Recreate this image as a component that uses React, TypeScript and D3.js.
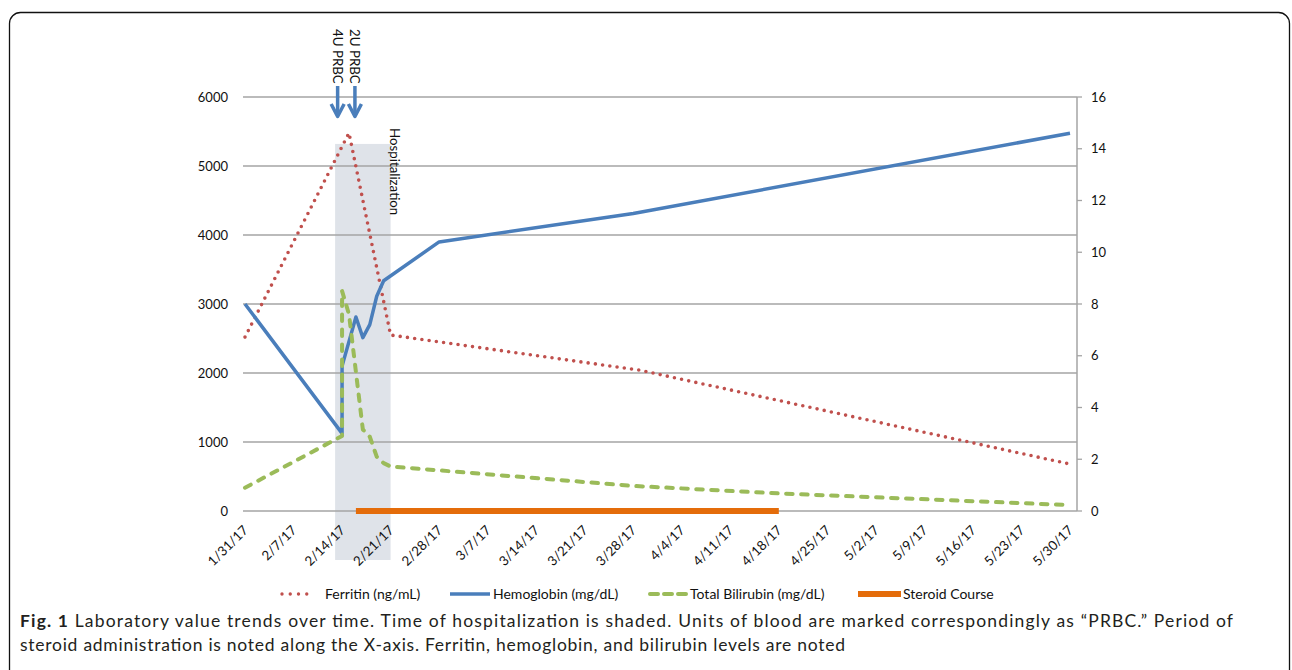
import React from "react";
import * as d3 from "d3";

// ---------- data ----------
const ferritinDates = ["2017-01-31", "2017-02-15", "2017-02-21", "2017-03-29", "2017-05-30"];
const ferritinValues = [2520, 5480, 2550, 2040, 680];

const hgbDates = [
  "2017-01-31", "2017-02-14", "2017-02-14", "2017-02-16", "2017-02-17", "2017-02-18",
  "2017-02-19", "2017-02-20", "2017-02-28", "2017-03-28", "2017-05-30",
];
const hgbValues = [8.0, 3.0, 5.6, 7.5, 6.7, 7.2, 8.3, 8.9, 10.4, 11.5, 14.6];

const biliDates = [
  "2017-01-31", "2017-02-14", "2017-02-14", "2017-02-15", "2017-02-17", "2017-02-18",
  "2017-02-19", "2017-02-20", "2017-02-21", "2017-03-28", "2017-04-18", "2017-05-30",
];
const biliValues = [0.9, 2.9, 8.5, 7.6, 3.15, 2.87, 2.1, 1.85, 1.72, 0.97, 0.68, 0.23];

const steroidStart = "2017-02-16";
const steroidEnd = "2017-04-18";

const hospStart = "2017-02-13";
const hospEnd = "2017-02-21";
const hospTopValue = 5320;
const hospBottomValue = -710;

const transfusionDates = ["2017-02-13", "2017-02-16"];
const transfusionLabels = ["4U PRBC", "2U PRBC"];

const xTickDates = [
  "2017-01-31", "2017-02-07", "2017-02-14", "2017-02-21", "2017-02-28", "2017-03-07",
  "2017-03-14", "2017-03-21", "2017-03-28", "2017-04-04", "2017-04-11", "2017-04-18",
  "2017-04-25", "2017-05-02", "2017-05-09", "2017-05-16", "2017-05-23", "2017-05-30",
];
const xTickLabels = [
  "1/31/17", "2/7/17", "2/14/17", "2/21/17", "2/28/17", "3/7/17", "3/14/17", "3/21/17",
  "3/28/17", "4/4/17", "4/11/17", "4/18/17", "4/25/17", "5/2/17", "5/9/17", "5/16/17",
  "5/23/17", "5/30/17",
];
const leftTicks = [0, 1000, 2000, 3000, 4000, 5000, 6000];
const rightTicks = [0, 2, 4, 6, 8, 10, 12, 14, 16];

const legendLabels = ["Ferritin (ng/mL)", "Hemoglobin (mg/dL)", "Total Bilirubin (mg/dL)", "Steroid Course"];

const captionBold = "Fig. 1";
const captionLine1 =
  " Laboratory value trends over time. Time of hospitalization is shaded. Units of blood are marked correspondingly as \u201CPRBC.\u201D Period of";
const captionLine2 =
  "steroid administration is noted along the X-axis. Ferritin, hemoglobin, and bilirubin levels are noted";

// ---------- style ----------
const FONT = "Lato, 'Open Sans', sans-serif";
const RED = "#c0504d";
const BLUE = "#4a7ebb";
const GREEN = "#9bbb59";
const ORANGE = "#e46c0a";
const GRID = "#a4a4a4";
const TEXT = "#111";

const W = 1292;
const H = 670;
const plotLeft = 243;
const plotRight = 1077;
const plotTop = 97;
const plotBottom = 511;

const parse = (s: string) => new Date(s.length === 10 ? s + "T00:00:00Z" : s);

export default function App() {
  const x = d3
    .scaleUtc()
    .domain([parse("2017-01-31"), parse("2017-05-30")])
    .range([245, 1070]);
  const yL = d3.scaleLinear().domain([0, 6000]).range([plotBottom, plotTop]);
  const yR = d3.scaleLinear().domain([0, 16]).range([plotBottom, plotTop]);

  const lineL = d3
    .line<[string, number]>()
    .x((d) => x(parse(d[0])))
    .y((d) => yL(d[1]));
  const lineR = d3
    .line<[string, number]>()
    .x((d) => x(parse(d[0])))
    .y((d) => yR(d[1]));

  const ferritin = lineL(ferritinDates.map((d, i) => [d, ferritinValues[i]] as [string, number])) || "";
  const hgb = lineR(hgbDates.map((d, i) => [d, hgbValues[i]] as [string, number])) || "";
  const bili = lineR(biliDates.map((d, i) => [d, biliValues[i]] as [string, number])) || "";

  const hx0 = x(parse(hospStart));
  const hx1 = x(parse(hospEnd));

  const legendY = 594;

  return (
    <svg
      width={W}
      height={H}
      viewBox={`0 0 ${W} ${H}`}
      style={{ position: "absolute", left: 0, top: 0, background: "#fff" }}
      fontFamily={FONT}
    >
      <rect x={0} y={0} width={W} height={H} fill="#fff" />
      {/* frame */}
      <rect x={9.5} y={12.5} width={1280} height={720} rx={11} ry={11} fill="none" stroke="#111" strokeWidth={1.3} />

      {/* hospitalization shade */}
      <rect x={hx0} y={yL(hospTopValue)} width={hx1 - hx0} height={yL(hospBottomValue) - yL(hospTopValue)} fill="#dfe3e9" />

      {/* gridlines */}
      {leftTicks.map((t) => (
        <line key={"g" + t} x1={plotLeft} x2={plotRight} y1={yL(t)} y2={yL(t)} stroke={GRID} strokeWidth={1.3} />
      ))}
      {/* right axis */}
      <line x1={plotRight} x2={plotRight} y1={plotTop} y2={plotBottom} stroke={GRID} strokeWidth={1.5} />
      {rightTicks.map((t) => (
        <line key={"rt" + t} x1={plotRight} x2={plotRight + 5} y1={yR(t)} y2={yR(t)} stroke={GRID} strokeWidth={1.3} />
      ))}

      {/* left labels */}
      {leftTicks.map((t) => (
        <text key={"ll" + t} x={228} y={yL(t)} dy="0.35em" textAnchor="end" fontSize={13} fill={TEXT}>
          {t}
        </text>
      ))}
      {/* right labels */}
      {rightTicks.map((t) => (
        <text key={"rl" + t} x={1091} y={yR(t)} dy="0.35em" textAnchor="start" fontSize={13} fill={TEXT}>
          {t}
        </text>
      ))}

      {/* x labels */}
      {xTickDates.map((d, i) => {
        const tx = x(parse(d)) + 4;
        return (
          <text key={"xl" + d} transform={`translate(${tx},531) rotate(-45)`} textAnchor="end" fontSize={13.3} fill={TEXT}>
            {xTickLabels[i]}
          </text>
        );
      })}

      {/* series */}
      <path d={ferritin} fill="none" stroke={RED} strokeWidth={3.6} strokeLinecap="round" strokeDasharray="0 7.3" />
      <line
        x1={x(parse(steroidStart))}
        x2={x(parse(steroidEnd))}
        y1={yL(0)}
        y2={yL(0)}
        stroke={ORANGE}
        strokeWidth={6}
      />
      <path d={hgb} fill="none" stroke={BLUE} strokeWidth={3.5} strokeLinejoin="round" />
      <path d={bili} fill="none" stroke={GREEN} strokeWidth={4} strokeLinecap="round" strokeLinejoin="round" strokeDasharray="6.5 8.5" />

      {/* hospitalization label */}
      <text transform={`translate(${hx1 + 4},128) rotate(90)`} dy="0.35em" fontSize={13.3} fill={TEXT}>
        Hospitalization
      </text>

      {/* transfusion arrows */}
      {transfusionDates.map((d, i) => {
        const ax = x(parse(d)) + (i === 0 ? 2.5 : -1);
        return (
          <g key={"tr" + d}>
            <text transform={`translate(${ax},29) rotate(90)`} dy="0.35em" fontSize={13.3} fill={TEXT}>
              {transfusionLabels[i]}
            </text>
            <line x1={ax} x2={ax} y1={86} y2={116} stroke={BLUE} strokeWidth={3.5} />
            <polyline
              points={`${ax - 6.5},104 ${ax},116.5 ${ax + 6.5},104`}
              fill="none"
              stroke={BLUE}
              strokeWidth={3.5}
              strokeLinejoin="round"
            />
          </g>
        );
      })}

      {/* legend */}
      <line x1={282} x2={315} y1={legendY} y2={legendY} stroke={RED} strokeWidth={3.4} strokeLinecap="round" strokeDasharray="0 8.25" />
      <text x={325} y={legendY} dy="0.35em" fontSize={14} fill={TEXT}>{legendLabels[0]}</text>
      <line x1={450} x2={490} y1={legendY} y2={legendY} stroke={BLUE} strokeWidth={3.5} />
      <text x={493} y={legendY} dy="0.35em" fontSize={14} fill={TEXT}>{legendLabels[1]}</text>
      <line x1={650} x2={686} y1={legendY} y2={legendY} stroke={GREEN} strokeWidth={4} strokeLinecap="round" strokeDasharray="8 6" />
      <text x={690} y={legendY} dy="0.35em" fontSize={14} fill={TEXT}>{legendLabels[2]}</text>
      <line x1={858} x2={901} y1={legendY} y2={legendY} stroke={ORANGE} strokeWidth={6} />
      <text x={903} y={legendY} dy="0.35em" fontSize={14} fill={TEXT}>{legendLabels[3]}</text>

      {/* caption */}
      <text x={20} y={627} fontSize={17.5} fill="#231f20" textLength={1213} lengthAdjust="spacing">
        <tspan fontWeight="bold">{captionBold}</tspan>
        <tspan>{captionLine1}</tspan>
      </text>
      <text x={20} y={651} fontSize={17.5} fill="#231f20" textLength={825} lengthAdjust="spacing">
        {captionLine2}
      </text>
    </svg>
  );
}
